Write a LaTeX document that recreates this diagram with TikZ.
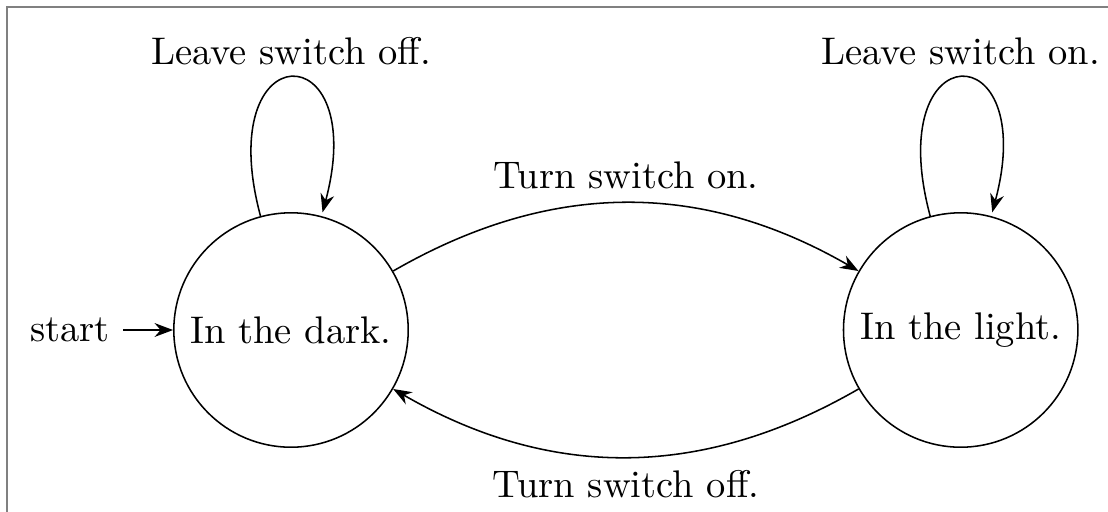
\documentclass[tikz,border=0pt]{standalone}
\usetikzlibrary{automata}
\usetikzlibrary{positioning}
\usetikzlibrary{arrows.meta}
\tikzset{%
    room/.style={state, minimum size=2.14cm},
    move/.style={draw, ->}
}

\begin{document}
\begin{tikzpicture}[>={Stealth}]
    \useasboundingbox (-2.657,-1.661) rectangle (7.459,3.013);
    \draw[gray] (-2.593,-1.661) -- (-2.593,2.949) -- (7.459,2.949);
    \node[room, initial] (dark) {In the dark.};
    \node[room, right=3.96cm of dark] (light) {In the light.};
    \path[move]
        (dark) edge[loop above] node[above] {Leave switch off.} ()
        (dark) edge[bend left] node[above] {Turn switch on.} (light)
        (light) edge[loop above] node[above] {Leave switch on.} ()
        (light) edge[bend left] node[below] {Turn switch off.} (dark);
\end{tikzpicture}
\end{document}
